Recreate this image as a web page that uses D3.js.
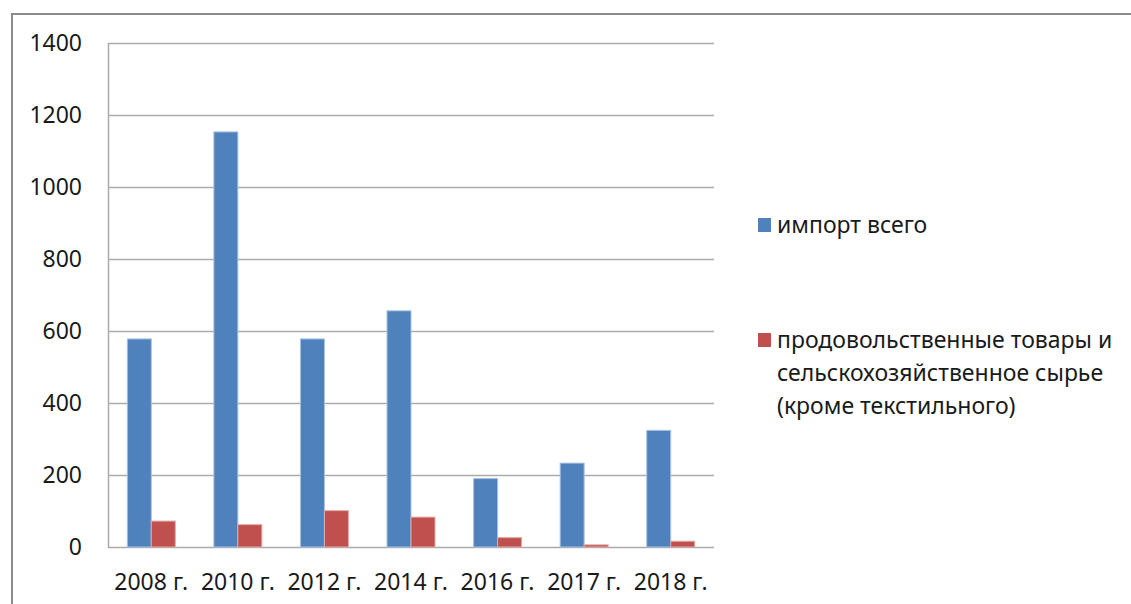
<!DOCTYPE html>
<html>
<head>
<meta charset="utf-8">
<script src="https://cdn.jsdelivr.net/npm/d3@7"></script>
<style>
  body { margin: 0; background: #fff; }
  svg text { font-family: "Noto Sans", "DejaVu Sans", sans-serif; fill: #1a1a1a; }
</style>
</head>
<body>
<div id="chart"></div>
<script>
// данные
var years = ['2008 г.', '2010 г.', '2012 г.', '2014 г.', '2016 г.', '2017 г.', '2018 г.'];
var importTotal = [578, 1153, 578, 656, 190, 233, 324];
var foodImport = [72, 62, 101, 83, 26, 6, 16];
var seriesNames = ['импорт всего', 'продовольственные товары и сельскохозяйственное сырье (кроме текстильного)'];
var yTicks = [0, 200, 400, 600, 800, 1000, 1200, 1400];

var width = 1131, height = 604;
var colors = ['#4F81BD', '#C0504D'];
var edges = ['#a9c1e0', '#e0a8a6'];

var svg = d3.select('#chart')
    .append('svg')
    .attr('width', width)
    .attr('height', height);

// рамка
svg.append('rect')
    .attr('x', 12).attr('y', 14)
    .attr('width', width + 20).attr('height', height + 20)
    .style('fill', 'none')
    .style('stroke', '#8a8a8a')
    .style('stroke-width', 2);

var plot = { left: 108, right: 714, top: 43, bottom: 547 };

var y = d3.scaleLinear().domain([0, 1400]).range([plot.bottom, plot.top]);
var x0 = d3.scaleBand().domain(years).range([plot.left, plot.right])
    .paddingInner(0.446).paddingOuter(0.223);
var x1 = d3.scaleBand().domain([0, 1]).range([0, x0.bandwidth()]);

// сетка
svg.append('g')
    .selectAll('line')
    .data(yTicks)
    .enter()
    .append('line')
    .attr('x1', plot.left)
    .attr('x2', plot.right)
    .attr('y1', function(d) { return Math.round(y(d)) + 0.5; })
    .attr('y2', function(d) { return Math.round(y(d)) + 0.5; })
    .style('stroke', '#ababab')
    .style('stroke-width', 1.5);

// ось Y
svg.append('line')
    .attr('x1', plot.left + 0.5).attr('x2', plot.left + 0.5)
    .attr('y1', plot.top).attr('y2', plot.bottom + 1)
    .style('stroke', '#ababab')
    .style('stroke-width', 1.5);

svg.append('g')
    .selectAll('text')
    .data(yTicks)
    .enter()
    .append('text')
    .attr('x', 82)
    .attr('y', function(d) { return y(d); })
    .attr('dy', '0.36em')
    .attr('text-anchor', 'end')
    .style('font-size', '23px')
    .text(function(d) { return d; });

// столбцы
var series = [importTotal, foodImport];
series.forEach(function(vals, s) {
    svg.append('g')
        .selectAll('rect')
        .data(vals)
        .enter()
        .append('rect')
        .attr('x', function(d, i) { return x0(years[i]) + x1(s); })
        .attr('y', function(d) { return y(d); })
        .attr('width', x1.bandwidth())
        .attr('height', function(d) { return plot.bottom - y(d); })
        .style('fill', colors[s])
        .style('stroke', edges[s])
        .style('stroke-width', 1);
});

// подписи X
svg.append('g')
    .selectAll('text')
    .data(years)
    .enter()
    .append('text')
    .attr('x', function(d) { return x0(d) + x0.bandwidth() / 2; })
    .attr('y', 590)
    .attr('text-anchor', 'middle')
    .style('font-size', '23px')
    .text(function(d) { return d; });

// легенда
var legend = svg.append('g');
var legendY = [225, 340];
var legendLines = [
    [seriesNames[0]],
    ['продовольственные товары и', 'сельскохозяйственное сырье', '(кроме текстильного)']
];
legendLines.forEach(function(lines, s) {
    legend.append('rect')
        .attr('x', 758).attr('y', legendY[s] - 7)
        .attr('width', 13).attr('height', 14)
        .style('fill', colors[s]);
    legend.append('text')
        .attr('x', 777)
        .attr('y', legendY[s])
        .style('font-size', '23px')
        .selectAll('tspan')
        .data(lines)
        .enter()
        .append('tspan')
        .attr('x', 777)
        .attr('dy', function(d, i) { return i === 0 ? '0.35em' : '33px'; })
        .text(function(d) { return d; });
});
</script>
</body>
</html>
